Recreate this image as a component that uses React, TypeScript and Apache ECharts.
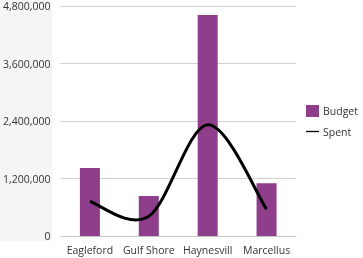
import React, { useEffect, useRef } from "react";
import * as echarts from "echarts";

const categories = ["Eagleford", "Gulf Shore", "Haynesville", "Marcellus"];
const budget = [1420000, 835000, 4610000, 1100000];
const spent = [720000, 410000, 2320000, 560000];
const yTicks = [0, 1200000, 2400000, 3600000, 4800000];

const fmt = (v: number) => v.toLocaleString("en-US");

export default function App() {
  const ref = useRef<HTMLDivElement>(null);
  useEffect(() => {
    const chart = echarts.init(ref.current!, null, { renderer: "svg" });
    const font = "'Open Sans', 'Noto Sans', sans-serif";
    chart.setOption({
      animation: false,
      textStyle: { fontFamily: font },
      graphic: [
        {
          type: "rect",
          z: -10,
          shape: { x: 0, y: 0, width: 52, height: 241 },
          style: { fill: "#f5f5f5" },
          silent: true,
        },
      ],
      grid: { left: 56, right: 67, top: 6, bottom: 22, containLabel: false },
      legend: {
        orient: "vertical",
        left: 301,
        top: 100,
        padding: 5,
        itemWidth: 13,
        itemHeight: 12,
        itemGap: 9,
        textStyle: { fontSize: 10.5, color: "#333", fontFamily: font, padding: [0, 0, 0, -1] },
        data: [
          { name: "Budget", icon: "rect" },
          { name: "Spent", icon: "path://M0,5 L20,5 L20,7 L0,7 Z", itemStyle: { color: "#000" } },
        ],
      },
      xAxis: {
        type: "category",
        data: categories,
        axisLine: { lineStyle: { color: "#c8c8c8" } },
        axisTick: { show: false },
        axisLabel: {
          interval: 0,
          fontSize: 10.5,
          color: "#333",
          margin: 8,
          width: 56,
          overflow: "truncate",
          ellipsis: "",
        },
      },
      yAxis: {
        type: "value",
        min: yTicks[0],
        max: yTicks[yTicks.length - 1],
        interval: yTicks[1] - yTicks[0],
        axisLine: { show: false },
        axisTick: { show: false },
        splitLine: { lineStyle: { color: "#cfcfcf" } },
        axisLabel: { fontSize: 10.5, color: "#333", margin: 10, formatter: (v: number) => fmt(v) },
      },
      series: [
        {
          name: "Budget",
          type: "bar",
          data: budget,
          barWidth: 20,
          itemStyle: { color: "#8e3e8a" },
        },
        {
          name: "Spent",
          type: "custom",
          data: spent.map((v, i) => [i, v]),
          itemStyle: { color: "#000" },
          z: 3,
          renderItem: (params: any, api: any) => {
            if (params.dataIndex !== 0) return null;
            const pts = spent.map((v, i) => api.coord([i, v]) as number[]);
            const n = pts.length;
            const P = (k: number) => pts[Math.max(0, Math.min(n - 1, k))];
            let d = `M${pts[0][0]},${pts[0][1]}`;
            for (let i = 0; i < n - 1; i++) {
              const p0 = P(i - 1), p1 = P(i), p2 = P(i + 1), p3 = P(i + 2);
              const c1x = p1[0] + (p2[0] - p0[0]) / 6;
              const c1y = p1[1] + (p2[1] - p0[1]) / 6;
              const c2x = p2[0] - (p3[0] - p1[0]) / 6;
              const c2y = p2[1] - (p3[1] - p1[1]) / 6;
              d += ` C${c1x},${c1y} ${c2x},${c2y} ${p2[0]},${p2[1]}`;
            }
            return {
              type: "path",
              shape: { pathData: d },
              style: { stroke: "#000", lineWidth: 3, fill: "none" },
            };
          },
        },
      ],
    });
    return () => chart.dispose();
  }, []);
  return <div ref={ref} style={{ position: "fixed", left: 0, top: 0, width: 363, height: 258 }} />;
}
